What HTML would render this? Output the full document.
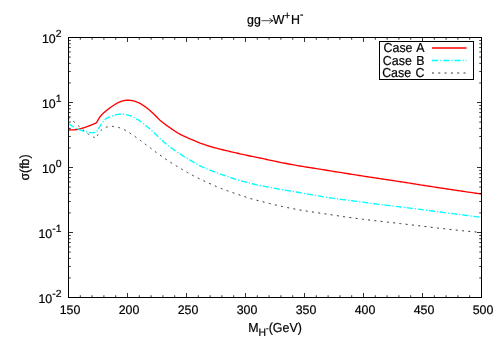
<!DOCTYPE html>
<html><head><meta charset="utf-8"><style>
html,body{margin:0;padding:0;background:#fff;}
svg{display:block;text-rendering:geometricPrecision;font-family:"Liberation Sans",sans-serif;font-size:12.4px;fill:#000;}
</style></head><body>
<svg width="500" height="350" viewBox="0 0 500 350">
<rect width="500" height="350" fill="#fff"/>
<path d="M68.50,130.00 L69.20,129.98 L69.91,129.96 L70.63,129.94 L71.34,129.92 L72.05,129.90 L72.73,129.87 L73.38,129.84 L74.00,129.80 L74.57,129.76 L75.11,129.71 L75.61,129.66 L76.09,129.60 L76.57,129.54 L77.04,129.47 L77.51,129.39 L78.00,129.30 L78.50,129.20 L79.00,129.09 L79.50,128.97 L80.00,128.85 L80.50,128.72 L81.00,128.58 L81.50,128.44 L82.00,128.30 L82.50,128.15 L83.00,128.00 L83.50,127.84 L84.00,127.68 L84.50,127.52 L85.00,127.35 L85.50,127.17 L86.00,127.00 L86.50,126.82 L87.00,126.64 L87.50,126.46 L88.00,126.27 L88.50,126.08 L89.00,125.89 L89.50,125.69 L90.00,125.50 L90.51,125.30 L91.04,125.10 L91.57,124.89 L92.09,124.68 L92.61,124.48 L93.11,124.27 L93.57,124.08 L94.00,123.90 L94.38,123.73 L94.73,123.57 L95.05,123.42 L95.34,123.28 L95.63,123.13 L95.91,122.99 L96.20,122.85 L96.50,122.70 L96.82,122.14 L97.14,121.56 L97.46,120.98 L97.78,120.39 L98.10,119.83 L98.41,119.28 L98.71,118.77 L99.00,118.30 L99.27,117.88 L99.51,117.51 L99.74,117.18 L99.97,116.86 L100.20,116.56 L100.44,116.26 L100.71,115.94 L101.00,115.60 L101.33,115.24 L101.68,114.86 L102.05,114.48 L102.44,114.09 L102.83,113.70 L103.23,113.32 L103.62,112.95 L104.00,112.60 L104.38,112.26 L104.75,111.94 L105.12,111.62 L105.50,111.31 L105.88,111.00 L106.25,110.70 L106.62,110.40 L107.00,110.10 L107.38,109.80 L107.75,109.51 L108.12,109.21 L108.50,108.92 L108.88,108.64 L109.25,108.36 L109.62,108.08 L110.00,107.80 L110.38,107.53 L110.75,107.26 L111.12,106.99 L111.50,106.73 L111.88,106.46 L112.25,106.21 L112.62,105.95 L113.00,105.70 L113.38,105.45 L113.75,105.20 L114.12,104.96 L114.50,104.71 L114.88,104.47 L115.25,104.24 L115.62,104.02 L116.00,103.80 L116.38,103.59 L116.75,103.39 L117.12,103.20 L117.50,103.01 L117.88,102.82 L118.25,102.64 L118.62,102.47 L119.00,102.30 L119.38,102.13 L119.75,101.97 L120.12,101.81 L120.50,101.65 L120.88,101.50 L121.25,101.36 L121.62,101.22 L122.00,101.10 L122.38,100.99 L122.76,100.88 L123.15,100.78 L123.53,100.69 L123.91,100.60 L124.29,100.53 L124.65,100.46 L125.00,100.40 L125.34,100.35 L125.66,100.31 L125.97,100.28 L126.28,100.25 L126.58,100.23 L126.89,100.22 L127.19,100.21 L127.50,100.20 L127.81,100.20 L128.12,100.20 L128.44,100.20 L128.75,100.21 L129.06,100.23 L129.38,100.25 L129.69,100.27 L130.00,100.30 L130.31,100.33 L130.62,100.37 L130.94,100.42 L131.25,100.47 L131.56,100.52 L131.88,100.58 L132.19,100.64 L132.50,100.70 L132.81,100.76 L133.12,100.83 L133.44,100.89 L133.75,100.96 L134.06,101.04 L134.38,101.12 L134.69,101.20 L135.00,101.30 L135.31,101.41 L135.62,101.52 L135.94,101.64 L136.25,101.77 L136.56,101.90 L136.88,102.03 L137.19,102.17 L137.50,102.30 L137.80,102.42 L138.07,102.52 L138.33,102.61 L138.59,102.71 L138.88,102.83 L139.20,102.98 L139.57,103.16 L140.00,103.40 L140.51,103.69 L141.07,104.03 L141.69,104.41 L142.34,104.82 L143.02,105.25 L143.69,105.69 L144.36,106.15 L145.00,106.60 L145.62,107.06 L146.25,107.53 L146.88,108.02 L147.50,108.51 L148.12,109.02 L148.75,109.54 L149.38,110.07 L150.00,110.60 L150.62,111.14 L151.25,111.70 L151.88,112.26 L152.50,112.84 L153.12,113.42 L153.75,114.01 L154.38,114.60 L155.00,115.20 L155.62,115.81 L156.25,116.45 L156.88,117.09 L157.50,117.74 L158.12,118.38 L158.75,119.01 L159.38,119.62 L160.00,120.20 L160.62,120.75 L161.25,121.28 L161.88,121.79 L162.50,122.29 L163.12,122.77 L163.75,123.25 L164.38,123.73 L165.00,124.20 L165.62,124.67 L166.25,125.13 L166.88,125.59 L167.50,126.04 L168.12,126.48 L168.75,126.92 L169.38,127.36 L170.00,127.80 L170.62,128.24 L171.25,128.67 L171.88,129.11 L172.50,129.54 L173.12,129.96 L173.75,130.38 L174.38,130.80 L175.00,131.20 L175.62,131.60 L176.25,131.99 L176.88,132.38 L177.50,132.76 L178.12,133.14 L178.75,133.50 L179.38,133.86 L180.00,134.20 L180.62,134.53 L181.25,134.85 L181.88,135.15 L182.50,135.45 L183.12,135.74 L183.75,136.02 L184.38,136.31 L185.00,136.60 L185.62,136.89 L186.25,137.18 L186.88,137.47 L187.50,137.76 L188.12,138.04 L188.75,138.32 L189.38,138.60 L190.00,138.88 L190.62,139.14 L191.25,139.41 L191.88,139.67 L192.50,139.93 L193.12,140.18 L193.75,140.44 L194.38,140.69 L195.00,140.95 L195.59,141.20 L196.13,141.44 L196.66,141.67 L197.19,141.91 L197.76,142.15 L198.40,142.41 L199.14,142.70 L200.00,143.03 L201.01,143.39 L202.15,143.79 L203.38,144.23 L204.69,144.67 L206.03,145.13 L207.38,145.57 L208.72,146.00 L210.00,146.40 L211.25,146.77 L212.50,147.13 L213.75,147.48 L215.00,147.81 L216.25,148.14 L217.50,148.46 L218.75,148.78 L220.00,149.10 L221.25,149.42 L222.50,149.72 L223.75,150.03 L225.00,150.33 L226.25,150.62 L227.50,150.91 L228.75,151.21 L230.00,151.50 L231.25,151.79 L232.50,152.08 L233.75,152.37 L235.00,152.66 L236.25,152.95 L237.50,153.23 L238.75,153.52 L240.00,153.80 L241.25,154.08 L242.50,154.36 L243.75,154.64 L245.00,154.92 L246.25,155.19 L247.50,155.47 L248.75,155.74 L250.00,156.00 L251.18,156.24 L252.27,156.46 L253.31,156.66 L254.38,156.87 L255.52,157.09 L256.80,157.34 L258.27,157.64 L260.00,158.00 L262.02,158.43 L264.30,158.93 L266.77,159.47 L269.38,160.04 L272.06,160.63 L274.77,161.21 L277.43,161.78 L280.00,162.30 L282.50,162.79 L285.00,163.28 L287.50,163.75 L290.00,164.22 L292.50,164.68 L295.00,165.12 L297.50,165.57 L300.00,166.00 L302.50,166.42 L305.00,166.84 L307.50,167.24 L310.00,167.63 L312.50,168.02 L315.00,168.41 L317.50,168.80 L320.00,169.20 L322.57,169.61 L325.23,170.04 L327.94,170.47 L330.62,170.90 L333.23,171.32 L335.70,171.71 L337.98,172.08 L340.00,172.40 L341.66,172.67 L342.97,172.88 L344.04,173.05 L345.00,173.21 L345.96,173.36 L347.03,173.53 L348.34,173.74 L350.00,174.00 L352.02,174.32 L354.30,174.67 L356.77,175.06 L359.38,175.46 L362.06,175.88 L364.77,176.30 L367.43,176.71 L370.00,177.10 L372.50,177.48 L375.00,177.85 L377.50,178.23 L380.00,178.60 L382.50,178.97 L385.00,179.35 L387.50,179.72 L390.00,180.10 L392.57,180.49 L395.23,180.90 L397.94,181.32 L400.62,181.74 L403.23,182.14 L405.70,182.53 L407.98,182.88 L410.00,183.20 L411.66,183.46 L412.97,183.67 L414.04,183.84 L415.00,184.00 L415.96,184.16 L417.03,184.33 L418.34,184.54 L420.00,184.80 L422.02,185.12 L424.30,185.47 L426.77,185.86 L429.38,186.26 L432.06,186.68 L434.77,187.10 L437.43,187.51 L440.00,187.90 L442.49,188.28 L444.96,188.65 L447.43,189.03 L449.91,189.40 L452.39,189.77 L454.89,190.15 L457.43,190.52 L460.00,190.90 L462.62,191.28 L465.27,191.67 L467.95,192.06 L470.66,192.44 L473.37,192.83 L476.09,193.22 L478.80,193.61 L481.50,194.00" fill="none" stroke="#ff0000" stroke-width="1.35" stroke-linejoin="round"/>
<path d="M68.50,123.70 L68.95,123.99 L69.41,124.30 L69.88,124.61 L70.34,124.91 L70.80,125.21 L71.23,125.50 L71.63,125.76 L72.00,126.00 L72.31,126.21 L72.56,126.38 L72.77,126.53 L72.97,126.68 L73.17,126.81 L73.39,126.96 L73.66,127.12 L74.00,127.30 L74.40,127.51 L74.86,127.74 L75.35,127.99 L75.88,128.24 L76.41,128.50 L76.95,128.75 L77.49,128.98 L78.00,129.20 L78.50,129.40 L79.00,129.59 L79.50,129.77 L80.00,129.95 L80.50,130.12 L81.00,130.28 L81.50,130.44 L82.00,130.60 L82.50,130.75 L83.00,130.90 L83.50,131.05 L84.00,131.19 L84.50,131.32 L85.00,131.45 L85.50,131.58 L86.00,131.70 L86.51,131.82 L87.02,131.94 L87.54,132.05 L88.05,132.16 L88.56,132.26 L89.06,132.35 L89.54,132.43 L90.00,132.50 L90.44,132.56 L90.86,132.61 L91.27,132.65 L91.66,132.68 L92.05,132.70 L92.43,132.71 L92.82,132.71 L93.20,132.70 L93.58,132.67 L93.96,132.62 L94.34,132.56 L94.71,132.49 L95.08,132.42 L95.45,132.34 L95.83,132.27 L96.20,132.20 L96.42,131.86 L96.64,131.53 L96.85,131.20 L97.06,130.87 L97.28,130.53 L97.51,130.18 L97.75,129.80 L98.00,129.40 L98.27,128.97 L98.55,128.50 L98.84,128.02 L99.14,127.53 L99.44,127.02 L99.76,126.51 L100.08,126.00 L100.40,125.50 L100.73,125.00 L101.07,124.48 L101.42,123.95 L101.78,123.43 L102.13,122.92 L102.49,122.42 L102.85,121.94 L103.20,121.50 L103.53,121.09 L103.84,120.70 L104.14,120.34 L104.45,119.99 L104.77,119.66 L105.13,119.34 L105.54,119.02 L106.00,118.70 L106.53,118.39 L107.12,118.08 L107.76,117.78 L108.42,117.49 L109.12,117.20 L109.82,116.93 L110.51,116.66 L111.20,116.40 L111.89,116.14 L112.60,115.88 L113.33,115.63 L114.06,115.38 L114.78,115.15 L115.49,114.94 L116.16,114.75 L116.80,114.60 L117.39,114.48 L117.95,114.39 L118.49,114.32 L119.00,114.27 L119.50,114.24 L120.00,114.22 L120.49,114.21 L121.00,114.20 L121.50,114.20 L121.99,114.20 L122.47,114.22 L122.95,114.25 L123.44,114.29 L123.93,114.35 L124.45,114.41 L125.00,114.50 L125.58,114.60 L126.18,114.71 L126.80,114.83 L127.44,114.97 L128.08,115.12 L128.73,115.29 L129.37,115.49 L130.00,115.70 L130.62,115.94 L131.25,116.20 L131.88,116.49 L132.50,116.79 L133.12,117.10 L133.75,117.43 L134.38,117.76 L135.00,118.10 L135.62,118.44 L136.25,118.79 L136.88,119.14 L137.50,119.51 L138.12,119.88 L138.75,120.27 L139.38,120.68 L140.00,121.10 L140.62,121.54 L141.25,122.01 L141.88,122.49 L142.50,122.98 L143.12,123.48 L143.75,123.99 L144.38,124.50 L145.00,125.00 L145.62,125.50 L146.25,126.00 L146.88,126.50 L147.50,127.01 L148.12,127.52 L148.75,128.04 L149.38,128.56 L150.00,129.10 L150.62,129.65 L151.25,130.21 L151.88,130.78 L152.50,131.36 L153.12,131.95 L153.75,132.53 L154.38,133.12 L155.00,133.70 L155.62,134.28 L156.25,134.87 L156.88,135.46 L157.50,136.05 L158.12,136.64 L158.75,137.23 L159.38,137.82 L160.00,138.40 L160.62,138.98 L161.25,139.57 L161.88,140.16 L162.50,140.75 L163.12,141.33 L163.75,141.90 L164.38,142.46 L165.00,143.00 L165.62,143.52 L166.25,144.03 L166.88,144.52 L167.50,145.01 L168.12,145.48 L168.75,145.96 L169.38,146.43 L170.00,146.90 L170.62,147.38 L171.25,147.85 L171.88,148.32 L172.50,148.79 L173.12,149.26 L173.75,149.71 L174.38,150.16 L175.00,150.60 L175.62,151.02 L176.25,151.43 L176.88,151.83 L177.50,152.22 L178.12,152.61 L178.75,153.00 L179.38,153.39 L180.00,153.80 L180.62,154.22 L181.25,154.65 L181.88,155.08 L182.50,155.52 L183.12,155.95 L183.75,156.38 L184.38,156.80 L185.00,157.20 L185.59,157.57 L186.13,157.89 L186.66,158.20 L187.19,158.51 L187.76,158.83 L188.40,159.19 L189.14,159.61 L190.00,160.10 L191.01,160.69 L192.15,161.36 L193.38,162.09 L194.69,162.86 L196.03,163.63 L197.38,164.40 L198.72,165.13 L200.00,165.80 L201.25,166.42 L202.50,167.01 L203.75,167.58 L205.00,168.13 L206.25,168.66 L207.50,169.18 L208.75,169.69 L210.00,170.20 L211.25,170.70 L212.50,171.18 L213.75,171.65 L215.00,172.11 L216.25,172.56 L217.50,173.01 L218.75,173.45 L220.00,173.90 L221.25,174.35 L222.50,174.80 L223.75,175.24 L225.00,175.68 L226.25,176.12 L227.50,176.55 L228.75,176.98 L230.00,177.40 L231.25,177.82 L232.50,178.24 L233.75,178.65 L235.00,179.06 L236.25,179.46 L237.50,179.85 L238.75,180.23 L240.00,180.60 L241.25,180.96 L242.50,181.30 L243.75,181.63 L245.00,181.96 L246.25,182.27 L247.50,182.59 L248.75,182.89 L250.00,183.20 L251.18,183.49 L252.27,183.76 L253.31,184.02 L254.38,184.28 L255.52,184.54 L256.80,184.83 L258.27,185.14 L260.00,185.50 L262.02,185.90 L264.30,186.35 L266.77,186.82 L269.38,187.31 L272.06,187.81 L274.77,188.31 L277.43,188.80 L280.00,189.27 L282.50,189.71 L285.00,190.15 L287.50,190.58 L290.00,191.00 L292.50,191.42 L295.00,191.84 L297.50,192.27 L300.00,192.70 L302.51,193.14 L305.05,193.59 L307.59,194.04 L310.12,194.49 L312.65,194.94 L315.14,195.37 L317.60,195.80 L320.00,196.20 L322.39,196.59 L324.78,196.98 L327.16,197.35 L329.50,197.71 L331.78,198.06 L333.97,198.39 L336.05,198.70 L338.00,198.98 L339.73,199.22 L341.23,199.42 L342.59,199.59 L343.88,199.75 L345.18,199.91 L346.58,200.07 L348.16,200.27 L350.00,200.50 L352.12,200.77 L354.44,201.07 L356.91,201.40 L359.50,201.73 L362.15,202.08 L364.81,202.42 L367.45,202.77 L370.00,203.10 L372.50,203.43 L375.00,203.75 L377.50,204.08 L380.00,204.41 L382.50,204.74 L385.00,205.06 L387.50,205.38 L390.00,205.70 L392.57,206.02 L395.23,206.34 L397.94,206.66 L400.62,206.98 L403.23,207.29 L405.70,207.58 L407.98,207.85 L410.00,208.10 L411.66,208.31 L412.97,208.47 L414.04,208.61 L415.00,208.74 L415.96,208.87 L417.03,209.01 L418.34,209.18 L420.00,209.40 L422.02,209.66 L424.30,209.96 L426.77,210.28 L429.38,210.62 L432.06,210.97 L434.77,211.32 L437.43,211.67 L440.00,212.00 L442.49,212.32 L444.96,212.65 L447.43,212.97 L449.91,213.29 L452.39,213.61 L454.89,213.94 L457.43,214.27 L460.00,214.60 L462.62,214.94 L465.27,215.29 L467.95,215.64 L470.66,215.99 L473.37,216.34 L476.09,216.70 L478.80,217.05 L481.50,217.40" fill="none" stroke="#00ffff" stroke-width="1.35" stroke-dasharray="6.2 2 1.2 1.8" stroke-linejoin="round"/>
<path d="M68.50,117.10 L69.18,117.69 L69.86,118.29 L70.55,118.88 L71.24,119.48 L71.92,120.07 L72.59,120.66 L73.25,121.24 L73.90,121.80 L74.53,122.35 L75.14,122.89 L75.75,123.42 L76.34,123.94 L76.93,124.46 L77.52,124.98 L78.11,125.49 L78.70,126.00 L79.29,126.51 L79.88,127.01 L80.47,127.51 L81.05,128.01 L81.63,128.51 L82.22,129.00 L82.81,129.50 L83.40,130.00 L84.00,130.51 L84.62,131.04 L85.24,131.58 L85.86,132.11 L86.47,132.63 L87.07,133.13 L87.65,133.59 L88.20,134.00 L88.73,134.37 L89.26,134.70 L89.77,135.00 L90.26,135.28 L90.74,135.53 L91.19,135.76 L91.61,135.99 L92.00,136.20 L92.35,136.40 L92.67,136.57 L92.95,136.73 L93.21,136.87 L93.46,137.00 L93.70,137.13 L93.95,137.26 L94.20,137.40 L94.46,137.54 L94.71,137.68 L94.96,137.82 L95.21,137.96 L95.46,138.09 L95.70,138.23 L95.95,138.36 L96.20,138.50 L96.40,138.03 L96.60,137.55 L96.80,137.06 L97.00,136.58 L97.20,136.11 L97.40,135.65 L97.60,135.21 L97.80,134.80 L98.00,134.42 L98.19,134.06 L98.38,133.73 L98.57,133.41 L98.77,133.10 L98.97,132.80 L99.18,132.50 L99.40,132.20 L99.63,131.90 L99.86,131.61 L100.09,131.33 L100.34,131.05 L100.59,130.78 L100.85,130.51 L101.12,130.25 L101.40,130.00 L101.69,129.75 L102.00,129.51 L102.32,129.27 L102.65,129.04 L102.98,128.81 L103.32,128.60 L103.66,128.39 L104.00,128.20 L104.32,128.02 L104.61,127.84 L104.89,127.68 L105.19,127.52 L105.51,127.38 L105.87,127.24 L106.30,127.12 L106.80,127.00 L107.40,126.88 L108.07,126.77 L108.82,126.66 L109.60,126.56 L110.41,126.47 L111.22,126.42 L112.03,126.39 L112.80,126.40 L113.55,126.45 L114.30,126.52 L115.04,126.62 L115.79,126.75 L116.54,126.90 L117.29,127.08 L118.04,127.28 L118.80,127.50 L119.57,127.75 L120.36,128.04 L121.16,128.35 L121.96,128.68 L122.75,129.03 L123.53,129.39 L124.28,129.75 L125.00,130.10 L125.68,130.45 L126.33,130.81 L126.96,131.18 L127.58,131.55 L128.18,131.93 L128.78,132.31 L129.38,132.70 L130.00,133.10 L130.62,133.50 L131.25,133.92 L131.88,134.34 L132.50,134.76 L133.12,135.19 L133.75,135.63 L134.38,136.06 L135.00,136.50 L135.62,136.94 L136.25,137.38 L136.88,137.82 L137.50,138.27 L138.12,138.72 L138.75,139.17 L139.38,139.63 L140.00,140.10 L140.62,140.57 L141.25,141.06 L141.88,141.55 L142.50,142.04 L143.12,142.54 L143.75,143.03 L144.38,143.52 L145.00,144.00 L145.62,144.47 L146.25,144.94 L146.88,145.40 L147.50,145.86 L148.12,146.31 L148.75,146.77 L149.38,147.23 L150.00,147.70 L150.62,148.17 L151.25,148.65 L151.88,149.13 L152.50,149.61 L153.12,150.09 L153.75,150.57 L154.38,151.04 L155.00,151.50 L155.59,151.93 L156.13,152.31 L156.66,152.68 L157.19,153.05 L157.76,153.44 L158.40,153.89 L159.14,154.40 L160.00,155.00 L161.01,155.71 L162.15,156.52 L163.38,157.41 L164.69,158.34 L166.03,159.29 L167.38,160.23 L168.72,161.14 L170.00,162.00 L171.25,162.81 L172.50,163.59 L173.75,164.36 L175.00,165.12 L176.25,165.87 L177.50,166.61 L178.75,167.35 L180.00,168.10 L181.25,168.85 L182.50,169.61 L183.75,170.37 L185.00,171.12 L186.25,171.86 L187.50,172.59 L188.75,173.31 L190.00,174.00 L191.25,174.67 L192.50,175.32 L193.75,175.95 L195.00,176.57 L196.25,177.19 L197.50,177.79 L198.75,178.40 L200.00,179.00 L201.25,179.60 L202.50,180.21 L203.75,180.80 L205.00,181.39 L206.25,181.98 L207.50,182.56 L208.75,183.13 L210.00,183.70 L211.25,184.26 L212.50,184.82 L213.75,185.37 L215.00,185.91 L216.25,186.45 L217.50,186.98 L218.75,187.49 L220.00,188.00 L221.25,188.49 L222.50,188.97 L223.75,189.44 L225.00,189.91 L226.25,190.36 L227.50,190.81 L228.75,191.26 L230.00,191.70 L231.25,192.14 L232.50,192.57 L233.75,193.00 L235.00,193.42 L236.25,193.85 L237.50,194.26 L238.75,194.68 L240.00,195.10 L241.25,195.52 L242.50,195.95 L243.75,196.37 L245.00,196.79 L246.25,197.21 L247.50,197.62 L248.75,198.02 L250.00,198.40 L251.18,198.75 L252.27,199.07 L253.31,199.36 L254.38,199.65 L255.52,199.95 L256.80,200.28 L258.27,200.66 L260.00,201.10 L262.02,201.61 L264.30,202.19 L266.77,202.82 L269.38,203.47 L272.06,204.13 L274.77,204.79 L277.43,205.42 L280.00,206.00 L282.50,206.55 L285.00,207.08 L287.50,207.61 L290.00,208.11 L292.50,208.61 L295.00,209.08 L297.50,209.55 L300.00,210.00 L302.57,210.44 L305.23,210.88 L307.94,211.30 L310.62,211.71 L313.23,212.09 L315.70,212.46 L317.98,212.80 L320.00,213.10 L321.66,213.35 L322.97,213.55 L324.04,213.71 L325.00,213.86 L325.96,214.00 L327.03,214.16 L328.34,214.35 L330.00,214.60 L332.02,214.91 L334.30,215.26 L336.77,215.64 L339.38,216.04 L342.06,216.45 L344.77,216.85 L347.43,217.24 L350.00,217.60 L352.50,217.94 L355.00,218.26 L357.50,218.58 L360.00,218.89 L362.50,219.20 L365.00,219.50 L367.50,219.80 L370.00,220.10 L372.50,220.40 L375.00,220.69 L377.50,220.98 L380.00,221.26 L382.50,221.55 L385.00,221.83 L387.50,222.11 L390.00,222.40 L392.57,222.70 L395.23,223.00 L397.94,223.31 L400.62,223.62 L403.23,223.92 L405.70,224.20 L407.98,224.47 L410.00,224.70 L411.66,224.89 L412.97,225.05 L414.04,225.18 L415.00,225.29 L415.96,225.41 L417.03,225.54 L418.34,225.70 L420.00,225.90 L422.02,226.14 L424.30,226.42 L426.77,226.72 L429.38,227.04 L432.06,227.36 L434.77,227.69 L437.43,228.00 L440.00,228.30 L442.49,228.59 L444.96,228.87 L447.43,229.15 L449.91,229.43 L452.39,229.70 L454.89,229.97 L457.43,230.24 L460.00,230.50 L462.62,230.76 L465.27,231.01 L467.95,231.26 L470.66,231.51 L473.37,231.76 L476.09,232.00 L478.80,232.25 L481.50,232.50" fill="none" stroke="#2a2a2a" stroke-width="0.95" stroke-dasharray="2 4.3" stroke-linejoin="round"/>
<rect x="68.5" y="37.5" width="413.0" height="260.0" fill="none" stroke="#000" stroke-width="1"/>
<path d="M68.5,297.5v-4.5M68.5,37.5v4.5M80.30,297.5v-2.25M80.30,37.5v2.25M92.10,297.5v-2.25M92.10,37.5v2.25M103.90,297.5v-2.25M103.90,37.5v2.25M115.70,297.5v-2.25M115.70,37.5v2.25M127.5,297.5v-4.5M127.5,37.5v4.5M139.30,297.5v-2.25M139.30,37.5v2.25M151.10,297.5v-2.25M151.10,37.5v2.25M162.90,297.5v-2.25M162.90,37.5v2.25M174.70,297.5v-2.25M174.70,37.5v2.25M186.5,297.5v-4.5M186.5,37.5v4.5M198.30,297.5v-2.25M198.30,37.5v2.25M210.10,297.5v-2.25M210.10,37.5v2.25M221.90,297.5v-2.25M221.90,37.5v2.25M233.70,297.5v-2.25M233.70,37.5v2.25M245.5,297.5v-4.5M245.5,37.5v4.5M257.30,297.5v-2.25M257.30,37.5v2.25M269.10,297.5v-2.25M269.10,37.5v2.25M280.90,297.5v-2.25M280.90,37.5v2.25M292.70,297.5v-2.25M292.70,37.5v2.25M304.5,297.5v-4.5M304.5,37.5v4.5M316.30,297.5v-2.25M316.30,37.5v2.25M328.10,297.5v-2.25M328.10,37.5v2.25M339.90,297.5v-2.25M339.90,37.5v2.25M351.70,297.5v-2.25M351.70,37.5v2.25M363.5,297.5v-4.5M363.5,37.5v4.5M375.30,297.5v-2.25M375.30,37.5v2.25M387.10,297.5v-2.25M387.10,37.5v2.25M398.90,297.5v-2.25M398.90,37.5v2.25M410.70,297.5v-2.25M410.70,37.5v2.25M422.5,297.5v-4.5M422.5,37.5v4.5M434.30,297.5v-2.25M434.30,37.5v2.25M446.10,297.5v-2.25M446.10,37.5v2.25M457.90,297.5v-2.25M457.90,37.5v2.25M469.70,297.5v-2.25M469.70,37.5v2.25M481.5,297.5v-4.5M481.5,37.5v4.5M68.5,297.5h4.5M481.5,297.5h-4.5M68.5,277.93h2.25M481.5,277.93h-2.25M68.5,266.49h2.25M481.5,266.49h-2.25M68.5,258.37h2.25M481.5,258.37h-2.25M68.5,252.07h2.25M481.5,252.07h-2.25M68.5,246.92h2.25M481.5,246.92h-2.25M68.5,242.57h2.25M481.5,242.57h-2.25M68.5,238.80h2.25M481.5,238.80h-2.25M68.5,235.47h2.25M481.5,235.47h-2.25M68.5,232.5h4.5M481.5,232.5h-4.5M68.5,212.93h2.25M481.5,212.93h-2.25M68.5,201.49h2.25M481.5,201.49h-2.25M68.5,193.37h2.25M481.5,193.37h-2.25M68.5,187.07h2.25M481.5,187.07h-2.25M68.5,181.92h2.25M481.5,181.92h-2.25M68.5,177.57h2.25M481.5,177.57h-2.25M68.5,173.80h2.25M481.5,173.80h-2.25M68.5,170.47h2.25M481.5,170.47h-2.25M68.5,167.5h4.5M481.5,167.5h-4.5M68.5,147.93h2.25M481.5,147.93h-2.25M68.5,136.49h2.25M481.5,136.49h-2.25M68.5,128.37h2.25M481.5,128.37h-2.25M68.5,122.07h2.25M481.5,122.07h-2.25M68.5,116.92h2.25M481.5,116.92h-2.25M68.5,112.57h2.25M481.5,112.57h-2.25M68.5,108.80h2.25M481.5,108.80h-2.25M68.5,105.47h2.25M481.5,105.47h-2.25M68.5,102.5h4.5M481.5,102.5h-4.5M68.5,82.93h2.25M481.5,82.93h-2.25M68.5,71.49h2.25M481.5,71.49h-2.25M68.5,63.37h2.25M481.5,63.37h-2.25M68.5,57.07h2.25M481.5,57.07h-2.25M68.5,51.92h2.25M481.5,51.92h-2.25M68.5,47.57h2.25M481.5,47.57h-2.25M68.5,43.80h2.25M481.5,43.80h-2.25M68.5,40.47h2.25M481.5,40.47h-2.25M68.5,37.5h4.5M481.5,37.5h-4.5" fill="none" stroke="#000" stroke-width="0.8"/>
<rect x="379.5" y="41.5" width="94" height="38" fill="#fff" stroke="#000" stroke-width="1"/>
<path d="M432,48H466.5" stroke="#ff0000" stroke-width="1.35"/>
<path d="M432,60.5H466.5" stroke="#00ffff" stroke-width="1.35" stroke-dasharray="6.2 2 1.2 1.8"/>
<path d="M432,73H466.5" stroke="#2a2a2a" stroke-width="0.95" stroke-dasharray="2 4.3"/>
<path d="M261.5,20.7H272.6" fill="none" stroke="#000" stroke-width="0.7"/><path d="M269.5,18.0Q270.8,20.2 273.1,20.7Q270.8,21.2 269.5,23.4" fill="none" stroke="#000" stroke-width="0.8"/>
<g style="filter:grayscale(1)" stroke="#000" stroke-width="0.2">
<text transform="scale(1,1.05)" x="424.5" y="50.00" text-anchor="end" word-spacing="1.0">Case A</text>
<text transform="scale(1,1.05)" x="424.5" y="61.90" text-anchor="end" word-spacing="1.0">Case B</text>
<text transform="scale(1,1.05)" x="424.5" y="73.81" text-anchor="end" word-spacing="1.0">Case C</text>
<text x="70.0" y="313.6" text-anchor="middle">150</text><text x="129.0" y="313.6" text-anchor="middle">200</text><text x="188.0" y="313.6" text-anchor="middle">250</text><text x="247.0" y="313.6" text-anchor="middle">300</text><text x="306.0" y="313.6" text-anchor="middle">350</text><text x="365.0" y="313.6" text-anchor="middle">400</text><text x="424.0" y="313.6" text-anchor="middle">450</text><text x="483.0" y="313.6" text-anchor="middle">500</text>
<text x="61.5" y="302.6" text-anchor="end">10<tspan dy="-6.1" font-size="10.4">-2</tspan></text><text x="61.5" y="237.6" text-anchor="end">10<tspan dy="-6.1" font-size="10.4">-1</tspan></text><text x="61.5" y="172.6" text-anchor="end">10<tspan dy="-6.1" font-size="10.4">0</tspan></text><text x="61.5" y="107.6" text-anchor="end">10<tspan dy="-6.1" font-size="10.4">1</tspan></text><text x="61.5" y="42.6" text-anchor="end">10<tspan dy="-6.1" font-size="10.4">2</tspan></text>
<text transform="scale(1,1.05)" x="247.0" y="22.86">gg</text>
<text transform="scale(1,1.05)" x="272.7" y="22.86">W</text>
<text transform="scale(1,1.05)" x="284.3" y="18.19" font-size="10.4">+</text>
<text transform="scale(1,1.05)" x="291.1" y="22.86">H</text>
<text transform="scale(1,1.05)" x="299.9" y="17.62" font-size="10.4">-</text>
<text transform="scale(1,1.05)" x="275" y="316.00" text-anchor="middle">M<tspan dy="3.6" font-size="10.4">H</tspan><tspan dy="-4.8" font-size="8">-</tspan><tspan dy="1.2">(GeV)</tspan></text>
<text transform="translate(28.9,167.5) rotate(-90) scale(1,1.05)" text-anchor="middle">σ(fb)</text>
</g>
</svg>
</body></html>
